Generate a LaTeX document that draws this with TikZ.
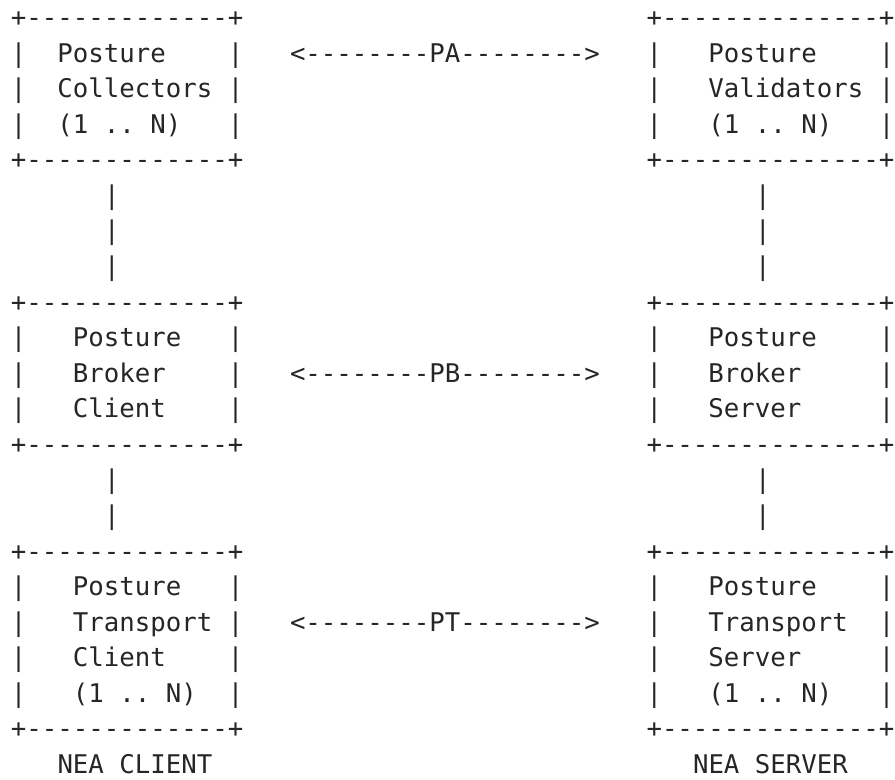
\documentclass[tikz,border=0pt]{standalone}
\usepackage{fontspec}
\setmonofont{DejaVu Sans Mono}
\tikzset{
  asc/.style={anchor=base west, inner sep=0pt, outer sep=0pt, text=black!85,
    font=\ttfamily\fontsize{19.3}{20}\selectfont}
}
\begin{document}
\begin{tikzpicture}[x=11.625pt, y=-26.6775pt]
\useasboundingbox (-0.7097,-0.745) rectangle (57.032,21.183);
\node[asc] (colTop) at (0,0) {+-------------+};
\node[asc] (col1) at (0,1) {|~~Posture~~~~|};
\node[asc] (col2) at (0,2) {|~~Collectors~|};
\node[asc] (col3) at (0,3) {|~~(1~..~N)~~~|};
\node[asc] (colBot) at (0,4) {+-------------+};
\node[asc] (valTop) at (41,0) {+--------------+};
\node[asc] (val1) at (41,1) {|~~~Posture~~~~|};
\node[asc] (val2) at (41,2) {|~~~Validators~|};
\node[asc] (val3) at (41,3) {|~~~(1~..~N)~~~|};
\node[asc] (valBot) at (41,4) {+--------------+};
\node[asc] (pa) at (18,1) {<--------PA-------->};
\node[asc] (cl1) at (6,5) {|};
\node[asc] (cl2) at (6,6) {|};
\node[asc] (cl3) at (6,7) {|};
\node[asc] (sv1) at (48,5) {|};
\node[asc] (sv2) at (48,6) {|};
\node[asc] (sv3) at (48,7) {|};
\node[asc] (pbcTop) at (0,8) {+-------------+};
\node[asc] (pbc1) at (0,9) {|~~~Posture~~~|};
\node[asc] (pbc2) at (0,10) {|~~~Broker~~~~|};
\node[asc] (pbc3) at (0,11) {|~~~Client~~~~|};
\node[asc] (pbcBot) at (0,12) {+-------------+};
\node[asc] (pbsTop) at (41,8) {+--------------+};
\node[asc] (pbs1) at (41,9) {|~~~Posture~~~~|};
\node[asc] (pbs2) at (41,10) {|~~~Broker~~~~~|};
\node[asc] (pbs3) at (41,11) {|~~~Server~~~~~|};
\node[asc] (pbsBot) at (41,12) {+--------------+};
\node[asc] (pb) at (18,10) {<--------PB-------->};
\node[asc] (cl4) at (6,13) {|};
\node[asc] (cl5) at (6,14) {|};
\node[asc] (sv4) at (48,13) {|};
\node[asc] (sv5) at (48,14) {|};
\node[asc] (ptcTop) at (0,15) {+-------------+};
\node[asc] (ptc1) at (0,16) {|~~~Posture~~~|};
\node[asc] (ptc2) at (0,17) {|~~~Transport~|};
\node[asc] (ptc3) at (0,18) {|~~~Client~~~~|};
\node[asc] (ptc4) at (0,19) {|~~~(1~..~N)~~|};
\node[asc] (ptcBot) at (0,20) {+-------------+};
\node[asc] (ptsTop) at (41,15) {+--------------+};
\node[asc] (pts1) at (41,16) {|~~~Posture~~~~|};
\node[asc] (pts2) at (41,17) {|~~~Transport~~|};
\node[asc] (pts3) at (41,18) {|~~~Server~~~~~|};
\node[asc] (pts4) at (41,19) {|~~~(1~..~N)~~~|};
\node[asc] (ptsBot) at (41,20) {+--------------+};
\node[asc] (pt) at (18,17) {<--------PT-------->};
\node[asc] (neaClient) at (3,21) {NEA~CLIENT};
\node[asc] (neaServer) at (44,21) {NEA~SERVER};
\end{tikzpicture}
\end{document}
